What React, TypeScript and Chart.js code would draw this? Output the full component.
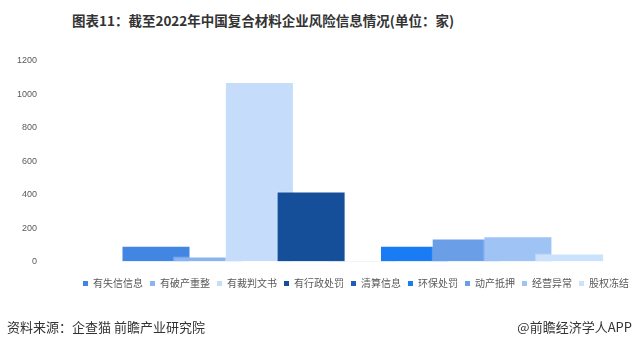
import React, { useEffect, useRef } from "react";
import { Chart, registerables } from "chart.js";

Chart.register(...registerables);

const seriesNames = [
  "有失信信息",
  "有破产重整",
  "有裁判文书",
  "有行政处罚",
  "清算信息",
  "环保处罚",
  "动产抵押",
  "经营异常",
  "股权冻结",
];
const seriesValues = [95, 30, 1075, 420, 5, 95, 138, 152, 48];
const seriesColors = [
  "#4285E3",
  "#8AB4F0",
  "#C5DDFB",
  "#154F9A",
  "#1F5BC0",
  "#1A7CF5",
  "#6A9FE8",
  "#A0C3F5",
  "#CCE2FC",
];
const yTicks = [0, 200, 400, 600, 800, 1000, 1200];

const CJK = "'Noto Sans CJK SC', 'Noto Sans', sans-serif";

export default function App() {
  const ref = useRef<HTMLCanvasElement | null>(null);

  useEffect(() => {
    if (!ref.current) return;
    const chart: any = new Chart(ref.current, {
      type: "bar",
      data: {
        datasets: [
          {
            label: "风险信息",
            data: seriesValues.map((v, i) => ({ x: i, y: v })),
            backgroundColor: seriesColors,
            borderColor: "rgba(255,255,255,0.35)",
            borderWidth: 1,
            categoryPercentage: 1,
            barPercentage: 1.335,
          },
        ],
      },
      options: {
        animation: false,
        responsive: true,
        maintainAspectRatio: false,
        layout: { padding: { top: 61, left: 0, right: 2, bottom: 2 } },
        scales: {
          x: {
            type: "linear",
            min: -1.2766,
            max: 9.284,
            bounds: "data",
            offset: false,
            display: true,
            grid: { display: false, drawTicks: false },
            border: { display: false },
            ticks: { display: false },
            afterBuildTicks: (s: any) => {
              s.ticks = seriesNames.map((_, i) => ({ value: i }));
              s.min = -1.2766;
              s.max = 9.284;
            },
            afterFit: (s: any) => {
              s.height = 10;
            },
          },
          y: {
            min: yTicks[0],
            max: yTicks[yTicks.length - 1],
            grid: { display: false, drawTicks: false },
            border: { display: false },
            afterBuildTicks: (s: any) => {
              s.ticks = yTicks.map((v) => ({ value: v }));
            },
            ticks: {
              padding: 53,
              color: "#595959",
              font: { size: 9, family: "Arial, 'Liberation Sans', sans-serif" },
              callback: (v: any) => String(v),
            },
            afterFit: (s: any) => {
              s.width = 90;
            },
          },
        },
        plugins: {
          title: { display: false },
          tooltip: { enabled: false },
          legend: {
            position: "bottom",
            align: "end",
            labels: {
              boxWidth: 5,
              boxHeight: 5,
              padding: 7,
              color: "#595959",
              font: { size: 10, family: CJK },
              generateLabels: () =>
                seriesNames.map((text, i) => ({
                  text,
                  fillStyle: seriesColors[i],
                  strokeStyle: seriesColors[i],
                  lineWidth: 0,
                  hidden: false,
                  index: i,
                  datasetIndex: 0,
                  fontColor: "#595959",
                })),
            },
          },
        },
      },
    });
    return () => chart.destroy();
  }, []);

  return (
    <div
      style={{
        position: "absolute",
        left: 0,
        top: 0,
        width: 638,
        height: 347,
        background: "#fff",
        overflow: "hidden",
        fontFamily: CJK,
      }}
    >
      <div
        style={{
          position: "absolute",
          left: 72,
          top: 11,
          fontSize: 13.5,
          lineHeight: "18px",
          fontWeight: "bold",
          color: "#333",
          whiteSpace: "nowrap",
        }}
      >
        图表11：截至2022年中国复合材料企业风险信息情况(单位：家)
      </div>
      <div style={{ position: "absolute", left: 0, top: 0, width: 638, height: 320 }}>
        <canvas ref={ref} />
      </div>
      <div
        style={{
          position: "absolute",
          left: 7,
          top: 318,
          fontSize: 13,
          lineHeight: "18px",
          color: "#333",
          whiteSpace: "nowrap",
        }}
      >
        资料来源：企查猫 前瞻产业研究院
      </div>
      <div
        style={{
          position: "absolute",
          right: 6,
          top: 318,
          fontSize: 13,
          lineHeight: "18px",
          color: "#333",
          whiteSpace: "nowrap",
        }}
      >
        @前瞻经济学人APP
      </div>
    </div>
  );
}
